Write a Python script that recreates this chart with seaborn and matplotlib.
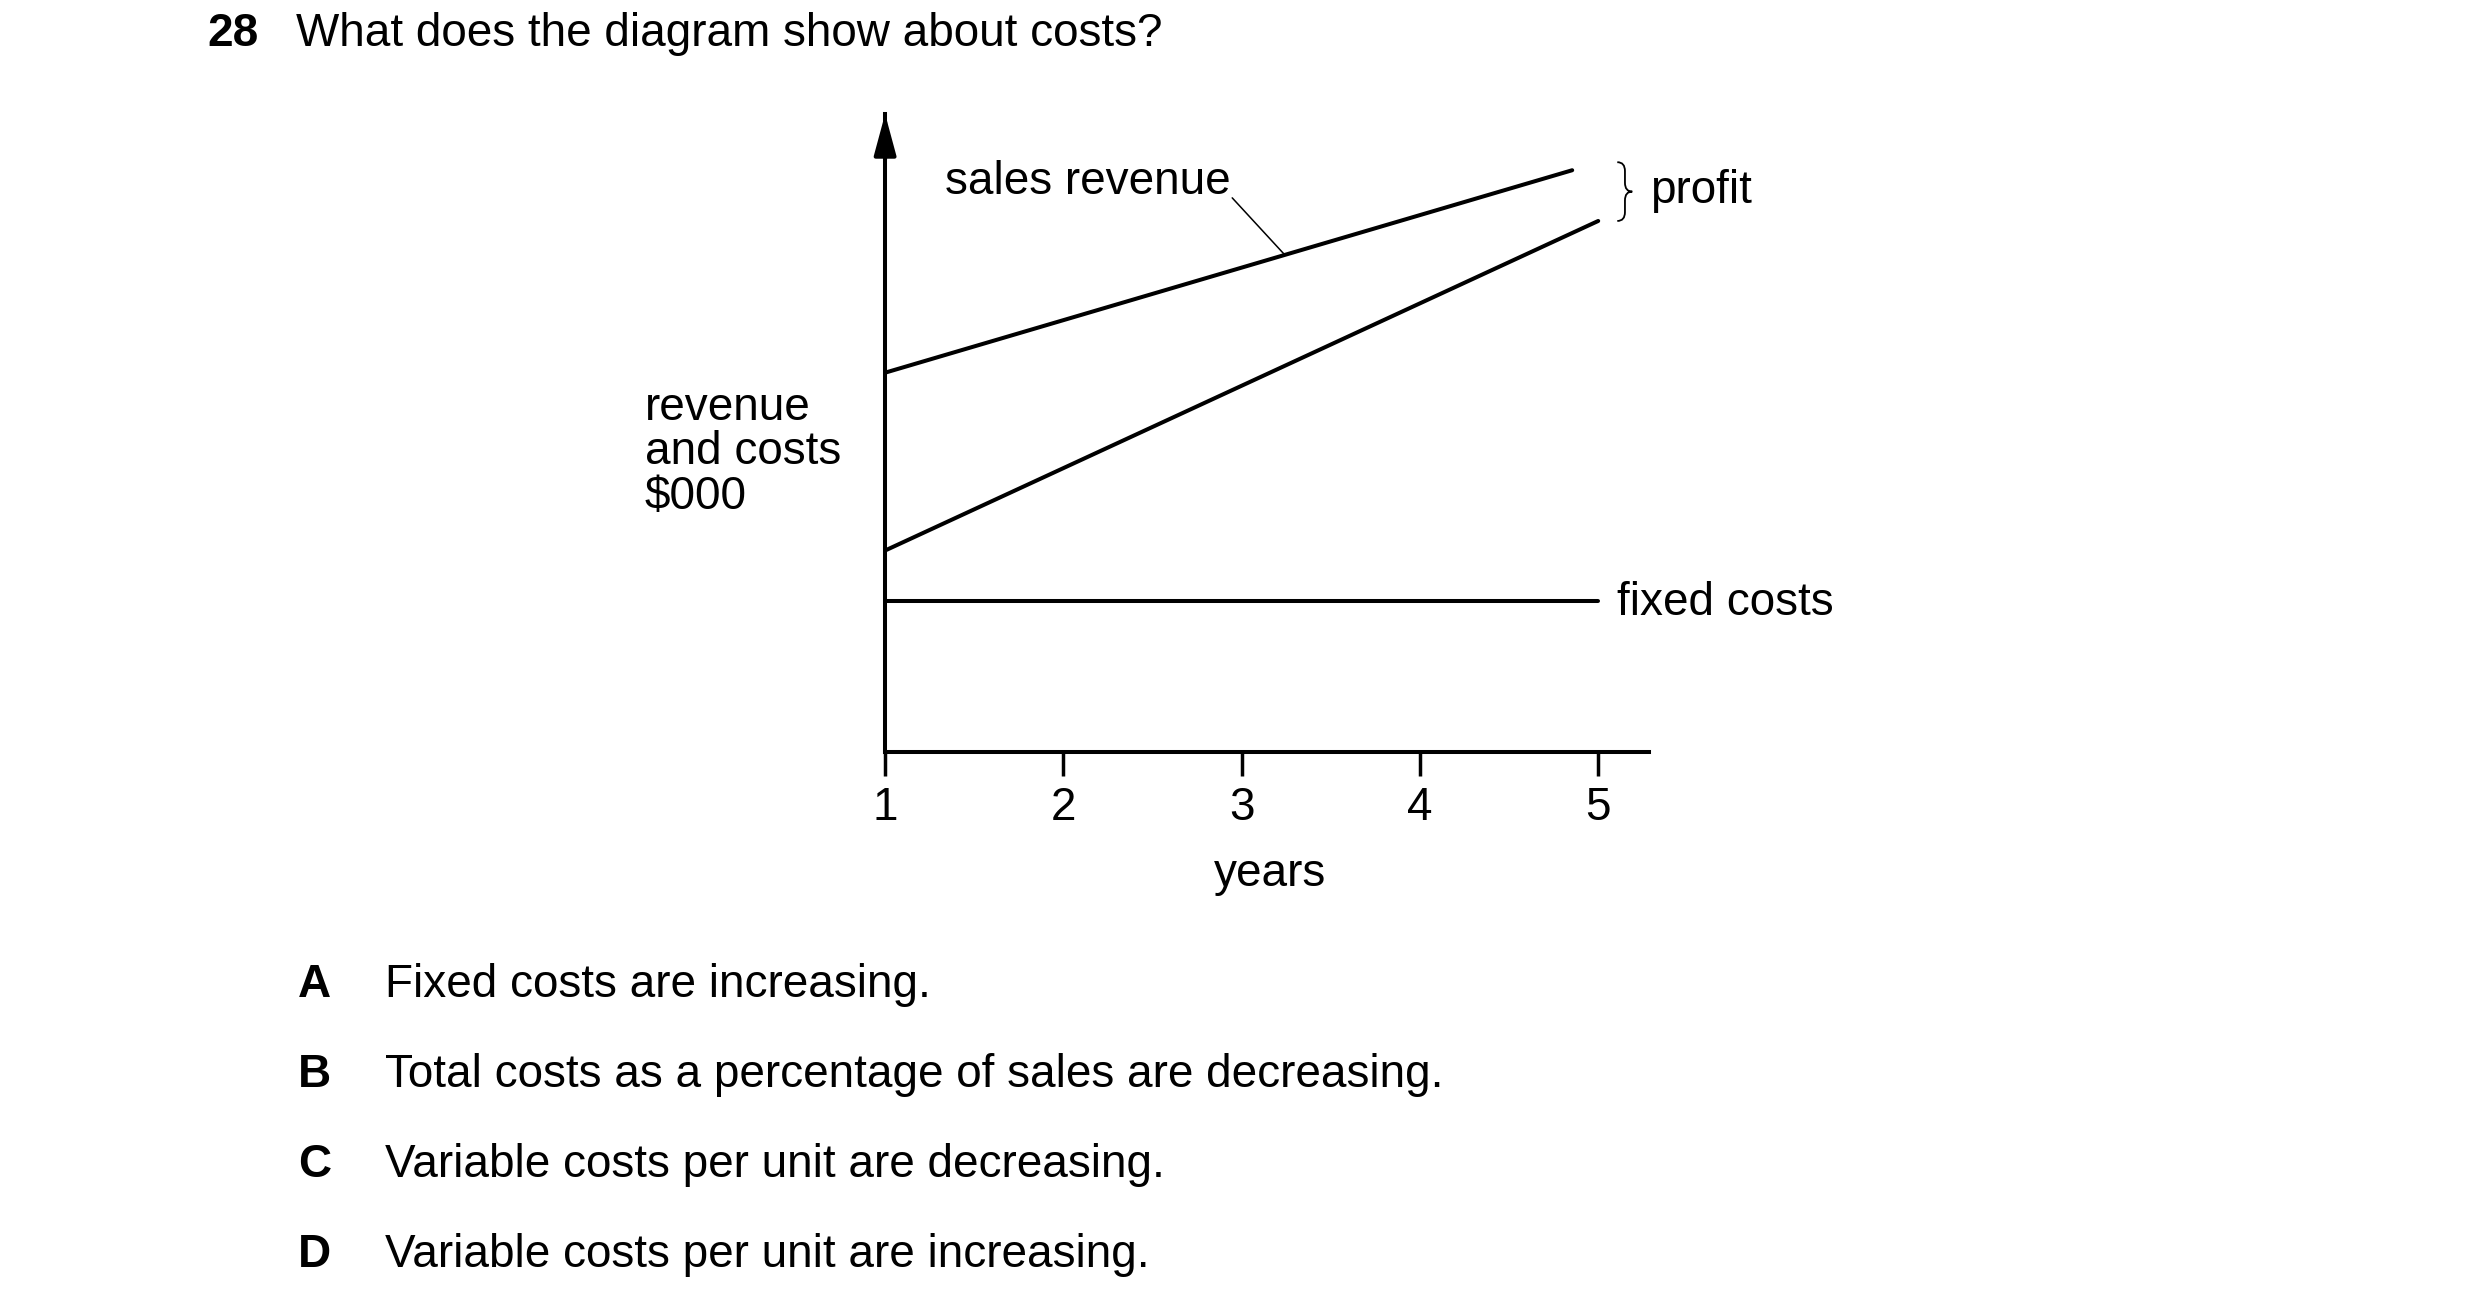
import numpy as np
import pandas as pd
import seaborn as sns
import matplotlib.pyplot as plt
from matplotlib.path import Path
from matplotlib.patches import PathPatch

# values ($000, arbitrary scale)
revenue_years = [1, 4.854]
revenue_values = [75.5, 115.8]
total_cost_years = [1, 5]
total_cost_values = [40.1, 105.7]
fixed_cost_years = [1, 5]
fixed_cost_values = [30, 30]
year_ticks = [1, 2, 3, 4, 5]

question = 'What does the diagram show about costs?'
options = ['A', 'B', 'C', 'D']
option_texts = [
    'Fixed costs are increasing.',
    'Total costs as a percentage of sales are decreasing.',
    'Variable costs per unit are decreasing.',
    'Variable costs per unit are increasing.',
]


def plot_cost_diagram():
    sns.set_theme(style='white')
    plt.rcParams['font.family'] = ['Liberation Sans', 'DejaVu Sans']
    plt.rcParams.update({'font.size': 33, 'text.color': 'black',
                         'axes.labelcolor': 'black', 'xtick.color': 'black'})

    fig = plt.figure(figsize=(24.8, 13.16), dpi=100)
    ax = fig.add_axes([0.3569, 0.4286, 0.3081, 0.4848])

    df = pd.concat([
        pd.DataFrame({'year': revenue_years, 'value': revenue_values, 'line': 'sales revenue'}),
        pd.DataFrame({'year': total_cost_years, 'value': total_cost_values, 'line': 'total costs'}),
        pd.DataFrame({'year': fixed_cost_years, 'value': fixed_cost_values, 'line': 'fixed costs'}),
    ])
    for name, part in df.groupby('line', sort=False):
        sns.lineplot(data=part, x='year', y='value', ax=ax, color='black',
                     linewidth=2.9, legend=False)

    ax.set_xlim(1, 5.286)
    ax.set_ylim(0, 127.0)
    ax.set_xticks(year_ticks)
    ax.set_xticklabels([str(t) for t in year_ticks])
    ax.set_yticks([])
    ax.tick_params(axis='x', direction='out', length=17.3, width=2.5, pad=7,
                   labelsize=33, labelcolor='black', color='black', bottom=True)
    for side in ['top', 'right']:
        ax.spines[side].set_visible(False)
    for side in ['left', 'bottom']:
        ax.spines[side].set_linewidth(2.9)
        ax.spines[side].set_color('black')
    ax.set_xlabel('years', fontsize=33, va='center', color='black')
    ax.xaxis.set_label_coords(0.504, -0.192)
    ax.set_ylabel('')

    # arrow head on the vertical axis
    ax.annotate('', xy=(1, 127.0), xytext=(1, 118), xycoords='data',
                arrowprops=dict(arrowstyle='-|>,head_length=1.26,head_width=0.34',
                                mutation_scale=20, color='black', lw=2.9,
                                shrinkA=0, shrinkB=0),
                annotation_clip=False)

    # labels inside the diagram
    ax.text(1.337, 113.5, 'sales revenue', ha='left', va='center', fontsize=33)
    ax.plot([2.947, 3.238], [110.3, 99.1], color='black', linewidth=1.1)
    ax.text(5.107, 29.6, 'fixed costs', ha='left', va='center', fontsize=33,
            clip_on=False)
    ax.text(5.292, 111.6, 'profit', ha='left', va='center', fontsize=33,
            clip_on=False)

    # brace for profit
    xl, xm, xr = 5.107, 5.15, 5.191
    yt, yb = 117.4, 105.7
    ym = (yt + yb) / 2
    h = yt - yb
    verts = [(xl, yt), (xm, yt), (xm, yt - 0.15 * h),
             (xm, ym + 0.15 * h), (xm, ym), (xr, ym),
             (xm, ym), (xm, ym - 0.15 * h),
             (xm, yb + 0.15 * h), (xm, yb), (xl, yb)]
    codes = [Path.MOVETO, Path.CURVE3, Path.CURVE3,
             Path.LINETO, Path.CURVE3, Path.CURVE3,
             Path.CURVE3, Path.CURVE3,
             Path.LINETO, Path.CURVE3, Path.CURVE3]
    brace = PathPatch(Path(verts, codes), facecolor='none', edgecolor='black',
                      linewidth=1.3, clip_on=False)
    ax.add_patch(brace)

    # vertical axis label
    fig.text(0.2601, 0.6562, 'revenue\nand costs\n$000', ha='left', va='center',
             fontsize=33, linespacing=1.02)

    # question and options
    fig.text(0.0835, 0.9742, '28', ha='left', va='center', fontsize=33,
             fontweight='bold')
    fig.text(0.1194, 0.9742, question, ha='left', va='center', fontsize=33)
    option_y = [0.2512, 0.1828, 0.1144, 0.0464]
    for letter, text, y in zip(options, option_texts, option_y):
        fig.text(0.1202, y, letter, ha='left', va='center', fontsize=33,
                 fontweight='bold')
        fig.text(0.1552, y, text, ha='left', va='center', fontsize=33)

    return fig


if __name__ == '__main__':
    fig = plot_cost_diagram()
    fig.savefig('out.png', dpi=100, facecolor='white')
